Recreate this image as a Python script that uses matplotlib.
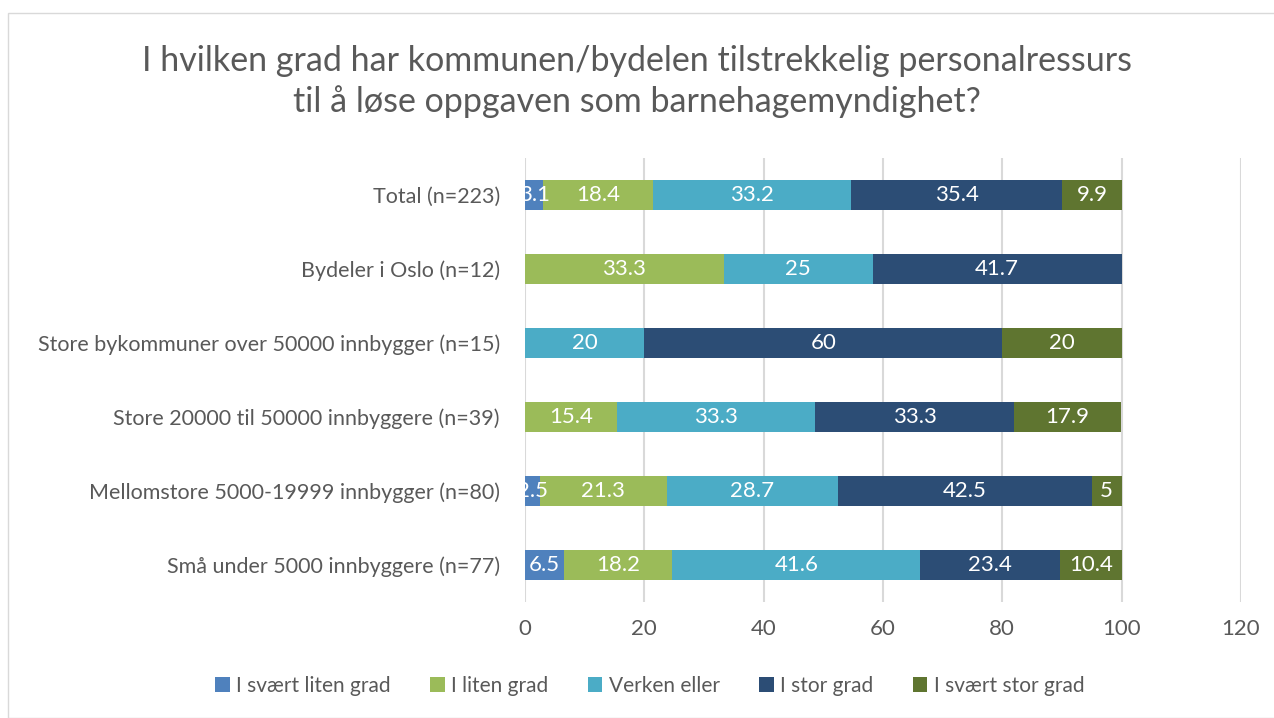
import matplotlib.pyplot as plt
import numpy as np
from matplotlib.patches import Rectangle

plt.rcParams['font.family'] = ['Lato', 'DejaVu Sans']

categories = ['Total (n=223)', 'Bydeler i Oslo (n=12)',
              'Store bykommuner over 50000 innbygger (n=15)',
              'Store 20000 til 50000 innbyggere (n=39)',
              'Mellomstore 5000-19999 innbygger (n=80)',
              'Små under 5000 innbyggere (n=77)']
series_names = ['I svært liten grad', 'I liten grad', 'Verken eller',
                'I stor grad', 'I svært stor grad']
svaert_liten = [3.1, 0, 0, 0, 2.5, 6.5]
liten = [18.4, 33.3, 0, 15.4, 21.3, 18.2]
verken = [33.2, 25, 20, 33.3, 28.7, 41.6]
stor = [35.4, 41.7, 60, 33.3, 42.5, 23.4]
svaert_stor = [9.9, 0, 20, 17.9, 5, 10.4]
colors = ['#4F81BD', '#9BBB59', '#4BACC6', '#2C4D75', '#5F7530']

fig = plt.figure(figsize=(12.74, 7.18), dpi=100)
ax = fig.add_axes([0.412, 0.1616, 0.562, 0.6184])

y = np.arange(len(categories))
left = np.zeros(len(categories))
for name, vals, c in zip(series_names, [svaert_liten, liten, verken, stor, svaert_stor], colors):
    vals = np.array(vals, dtype=float)
    bars = ax.barh(y, vals, left=left, height=0.4, color=c, label=name, zorder=3)
    for b, v in zip(bars, vals):
        if v > 0:
            ax.text(b.get_x() + b.get_width() / 2, b.get_y() + b.get_height() / 2,
                    f'{v:g}', ha='center', va='center', color='white', fontsize=16, zorder=4)
    left += vals

ax.set_xlim(0, 120)
ax.set_ylim(len(categories) - 0.5, -0.5)
ax.set_xticks(range(0, 121, 20))
ax.set_yticks(y)
ax.set_yticklabels(categories)
ax.tick_params(axis='y', length=0, labelsize=15.5, colors='#595959', pad=18)
ax.tick_params(axis='x', length=0, labelsize=16, colors='#595959', pad=12)
ax.grid(axis='x', color='#D9D9D9', linewidth=1.5, zorder=0)
for s in ax.spines.values():
    s.set_visible(False)

fig.text(0.5, 0.886, 'I hvilken grad har kommunen/bydelen tilstrekkelig personalressurs\n'
         'til å løse oppgaven som barnehagemyndighet?',
         ha='center', va='center', fontsize=24.5, color='#595959', linespacing=1.3)

fig.legend(loc='center', bbox_to_anchor=(0.51, 0.045), ncol=5, frameon=False,
           fontsize=15, handlelength=0.7, handleheight=0.7, columnspacing=1.9,
           handletextpad=0.3, labelcolor='#595959')

fig.patches.append(Rectangle((8 / 1274, 0), 1.2, 1 - 13 / 718, transform=fig.transFigure,
                             fill=False, edgecolor='#D9D9D9', linewidth=1))

fig.savefig('out.png', dpi=100)
